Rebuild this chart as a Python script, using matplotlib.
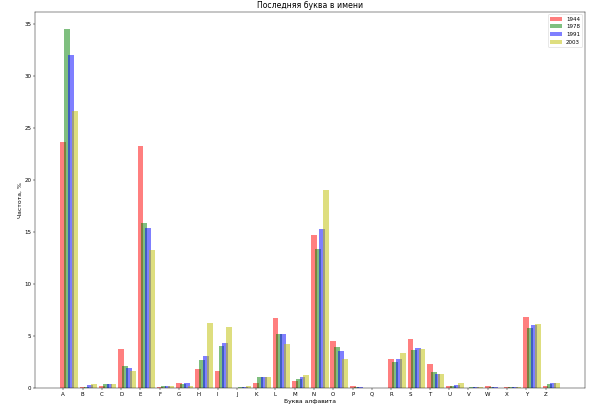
import matplotlib
matplotlib.use("Agg")
import matplotlib.pyplot as plt
import numpy as np

letters = list("ABCDEFGHIJKLMNOPQRSTUVWXYZ")
years = ["1944", "1978", "1991", "2003"]
colors = ["r", "g", "b", "y"]

freq_1944 = [23.65, 0.1, 0.25, 3.8, 23.3, 0.1, 0.45, 1.8, 1.6, 0.0, 0.5, 6.7, 0.7,
             14.7, 4.56, 0.16, 0.0, 2.8, 4.7, 2.3, 0.19, 0.03, 0.2, 0.15, 6.8, 0.19]
freq_1978 = [34.5, 0.15, 0.35, 2.1, 15.9, 0.2, 0.4, 2.75, 4.05, 0.07, 1.03, 5.25, 0.9,
             13.4, 3.95, 0.1, 0.05, 2.5, 3.66, 1.54, 0.19, 0.1, 0.15, 0.1, 5.8, 0.35]
freq_1991 = [32.0, 0.3, 0.35, 1.9, 15.4, 0.2, 0.5, 3.1, 4.35, 0.07, 1.03, 5.25, 1.06,
             15.33, 3.57, 0.15, 0.05, 2.83, 3.86, 1.38, 0.29, 0.1, 0.1, 0.1, 6.05, 0.5]
freq_2003 = [26.7, 0.4, 0.35, 1.65, 13.3, 0.2, 0.25, 6.25, 5.9, 0.2, 1.03, 4.2, 1.22,
             19.1, 2.8, 0.05, 0.05, 3.37, 3.8, 1.38, 0.48, 0.15, 0.05, 0.1, 6.17, 0.5]

series = [freq_1944, freq_1978, freq_1991, freq_2003]

x = np.arange(len(letters))

plt.figure(figsize=(15, 10.3))
for i, vals in enumerate(series):
    plt.bar(x + 0.2 * i, vals, width=0.3, color=colors[i], alpha=0.5, label=years[i])

plt.xticks(x, letters)
plt.title("Последняя буква в имени", fontsize=14)
plt.xlabel("Буква алфавита", fontsize=11)
plt.ylabel("Частота, %", fontsize=11)
plt.legend()
plt.subplots_adjust(left=0.059, right=0.975, bottom=0.058, top=0.972)
plt.savefig("out.png", dpi=40)
